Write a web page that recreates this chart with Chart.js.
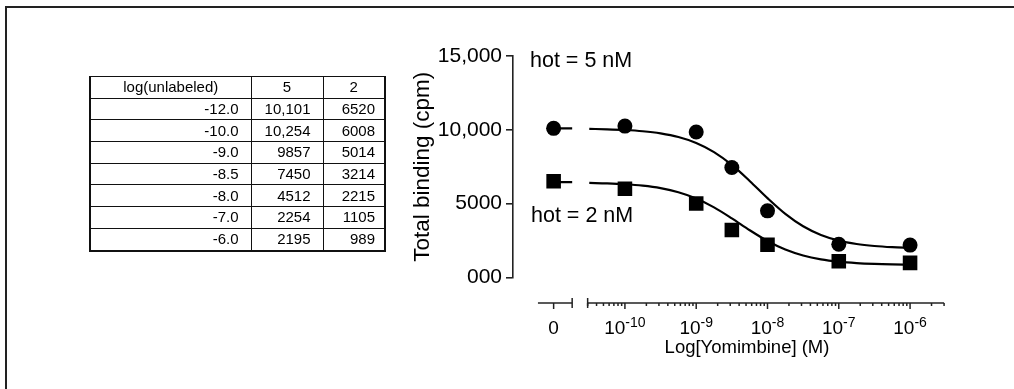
<!DOCTYPE html>
<html>
<head>
<meta charset="utf-8">
<script src="https://cdn.jsdelivr.net/npm/chart.js@4.4.1/dist/chart.umd.min.js"></script>
<style>
  html, body { margin: 0; padding: 0; background: #fff; }
  body { width: 1014px; height: 389px; overflow: hidden; position: relative;
         font-family: "Liberation Sans", Arial, Helvetica, sans-serif; }
  #tbl { position: absolute; left: 89px; top: 76px; width: 295px; table-layout: fixed; border-collapse: collapse;
         font-size: 15px; color: #000; border: 2px solid #111; border-top-width: 1px; }
  #tbl td { border: 1px solid #111; padding: 0 12px 0 0; text-align: right; height: 20.7px; line-height: 18px; white-space: nowrap; }
  #tbl tr:first-child td { text-align: center; padding: 0; }
  #tbl td.c3 { padding-right: 9px; }
  #chart { position: absolute; left: 0; top: 0; }
</style>
</head>
<body>
<canvas id="chart" width="1014" height="389"></canvas>
<table id="tbl">
  <colgroup><col style="width:161px"><col style="width:72px"><col style="width:62px"></colgroup>
  <tbody id="tbody"></tbody>
</table>
<script>
// datos de la tabla (log de la concentracion sin marcar, -12 = cero)
const logUnlabeled = [-12.0, -10.0, -9.0, -8.5, -8.0, -7.0, -6.0];
const hot5 = [10101, 10254, 9857, 7450, 4512, 2254, 2195];
const hot2 = [6520, 6008, 5014, 3214, 2215, 1105, 989];
const tableHeader = ['log(unlabeled)', '5', '2'];

// curvas ajustadas
const curveX = [-10.5, -10.25, -10.0, -9.75, -9.5, -9.25, -9.0, -8.75, -8.5, -8.25, -8.0,
                -7.75, -7.5, -7.25, -7.0, -6.75, -6.5, -6.25, -6.0];
const curve5 = [10065, 10037, 9989, 9905, 9759, 9513, 9112, 8494, 7623, 6539, 5374,
                4309, 3469, 2880, 2501, 2269, 2133, 2054, 2009];
const curve2 = [6407, 6374, 6316, 6216, 6047, 5771, 5346, 4748, 4003, 3203, 2471,
                1894, 1489, 1228, 1069, 975, 921, 890, 873];
const stubX = [-12.0, -11.74];
const stub5 = [10100, 10100];
const stub2 = [6460, 6460];

const yTickValues = [0, 5000, 10000, 15000];
const yTickLabels = ['000', '5000', '10,000', '15,000'];
const xTickValues = [-12, -10, -9, -8, -7, -6];
const xTickLabels = ['0', '10^-10', '10^-9', '10^-8', '10^-7', '10^-6'];
const annotations = ['hot = 5 nM', 'hot = 2 nM'];

// eje partido: tramo del cero y tramo logaritmico
const zeroSegment = [-12.22, -11.74];
const zeroShift = 1;
const logSegment = [Math.log10(3e-11), Math.log10(3e-6)];
const FONT = '"Liberation Sans", Arial, Helvetica, sans-serif';

const fmt = (n) => n >= 10000 ? n.toLocaleString('en-US') : String(n);

// tabla
const tbody = document.getElementById('tbody');
let html = '<tr>' + tableHeader.map(h => '<td>' + h + '</td>').join('') + '</tr>';
logUnlabeled.forEach((v, i) => {
  html += '<tr><td>' + v.toFixed(1) + '</td><td>' + fmt(hot5[i]) + '</td><td class="c3">' + fmt(hot2[i]) + '</td></tr>';
});
tbody.innerHTML = html;

class BrokenScale extends Chart.LinearScale {
  getPixelForValue(v) {
    return super.getPixelForValue(v < zeroSegment[1] + 0.1 ? v + zeroShift : v);
  }
}
BrokenScale.id = 'broken';
BrokenScale.defaults = Chart.LinearScale.defaults;
Chart.register(BrokenScale);

// marco de la figura (solo arriba e izquierda)
const frame = {
  id: 'frame',
  beforeDraw(chart) {
    const ctx = chart.ctx;
    ctx.save();
    ctx.fillStyle = '#222';
    ctx.fillRect(5, 6, chart.width - 5, 2);
    ctx.fillRect(5, 6, 2, chart.height - 6);
    ctx.restore();
  }
};

const brokenAxis = {
  id: 'brokenAxis',
  afterDraw(chart) {
    const { ctx, chartArea } = chart;
    const x = chart.scales.x;
    const y0 = chartArea.bottom + 25.5;
    ctx.save();
    ctx.strokeStyle = '#222';
    ctx.lineWidth = 1.5;
    const line = (x1, y1, x2, y2) => { ctx.beginPath(); ctx.moveTo(x1, y1); ctx.lineTo(x2, y2); ctx.stroke(); };

    const a = x.getPixelForValue(zeroSegment[0]), b = x.getPixelForValue(zeroSegment[1]);
    line(a, y0, b, y0);
    line(b, y0 - 5, b, y0 + 5);
    const c = x.getPixelForValue(logSegment[0]), d = x.getPixelForValue(logSegment[1]);
    line(c, y0, d, y0);
    line(c, y0 - 5, c, y0 + 5);
    for (let dec = -11; dec <= -6; dec++) {
      for (let k = 2; k <= 9; k++) {
        const v = dec + Math.log10(k);
        if (v < logSegment[0] - 1e-6 || v > logSegment[1] + 1e-6) continue;
        const px = x.getPixelForValue(v);
        line(px, y0, px, y0 + 3);
      }
    }
    xTickValues.forEach(v => {
      const px = x.getPixelForValue(v);
      line(px, y0, px, y0 + 6);
    });

    // etiquetas con exponente
    ctx.fillStyle = '#000';
    ctx.textBaseline = 'alphabetic';
    ctx.textAlign = 'left';
    xTickLabels.forEach((lab, i) => {
      const px = x.getPixelForValue(xTickValues[i]);
      const [base, exp] = lab.split('^');
      ctx.font = '19px ' + FONT;
      const wb = ctx.measureText(base).width;
      let we = 0;
      if (exp) { ctx.font = '14px ' + FONT; we = ctx.measureText(exp).width; }
      const sx = px - (wb + we) / 2;
      ctx.font = '19px ' + FONT;
      ctx.fillText(base, sx, y0 + 31);
      if (exp) { ctx.font = '14px ' + FONT; ctx.fillText(exp, sx + wb, y0 + 24); }
    });

    ctx.font = '18.5px ' + FONT;
    ctx.textAlign = 'center';
    ctx.fillText('Log[Yomimbine] (M)', (a + d) / 2 + 6, y0 + 50);

    ctx.font = '21.5px ' + FONT;
    ctx.textAlign = 'left';
    ctx.fillText(annotations[0], chartArea.left + 17, chartArea.top + 11);
    ctx.fillText(annotations[1], chartArea.left + 18, chartArea.top + 165.5);
    ctx.restore();
  }
};

const pts = (xs, ys) => xs.map((v, i) => ({ x: v, y: ys[i] }));
const lineDs = (xs, ys) => ({
  data: pts(xs, ys), showLine: true, pointRadius: 0, borderColor: '#000', borderWidth: 2.2,
  cubicInterpolationMode: 'monotone', fill: false
});

new Chart(document.getElementById('chart'), {
  type: 'scatter',
  data: {
    datasets: [
      { data: pts(logUnlabeled, hot5), pointStyle: 'circle', pointRadius: 7.5, backgroundColor: '#000', borderWidth: 0 },
      { data: pts(logUnlabeled, hot2), pointStyle: 'rect', pointRadius: 10.3, backgroundColor: '#000', borderWidth: 0 },
      lineDs(curveX, curve5),
      lineDs(curveX, curve2),
      lineDs(stubX, stub5),
      lineDs(stubX, stub2)
    ]
  },
  options: {
    responsive: false,
    animation: false,
    devicePixelRatio: 1,
    layout: { padding: { left: 400, top: 56, right: 69, bottom: 111.5 } },
    plugins: { legend: { display: false }, tooltip: { enabled: false } },
    scales: {
      x: { type: 'broken', display: false, min: -11.57, max: -5.51 },
      y: {
        min: 0, max: 15000,
        afterFit: (s) => { s.width = 113; },
        afterBuildTicks: (s) => { s.ticks = yTickValues.map(v => ({ value: v })); },
        ticks: {
          color: '#000', padding: 4, font: { family: FONT, size: 21 },
          callback: (v) => yTickLabels[yTickValues.indexOf(v)]
        },
        grid: { drawOnChartArea: false, tickLength: 7, color: '#222', lineWidth: 1.6 },
        border: { color: '#222', width: 1.6 },
        title: { display: true, text: 'Total binding (cpm)', color: '#000',
                 font: { family: FONT, size: 22.5 }, padding: { top: 9.5, bottom: 0 } }
      }
    }
  },
  plugins: [frame, brokenAxis]
});
</script>
</body>
</html>
